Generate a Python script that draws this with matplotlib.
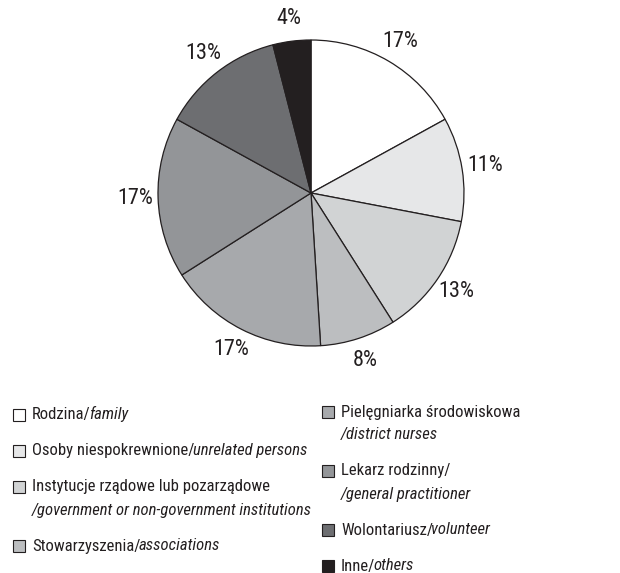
import matplotlib
matplotlib.use("Agg")
import matplotlib.pyplot as plt
from matplotlib.patches import Rectangle

plt.rcParams["font.family"] = ["Roboto Condensed", "Liberation Sans", "DejaVu Sans"]

# shares of each source of help (%)
shares = [17, 11, 13, 8, 17, 17, 13, 4]
colors = ["#ffffff", "#e6e7e8", "#d1d3d4", "#bcbec0",
          "#a7a9ac", "#939598", "#6d6e71", "#231f20"]
names_pl = ["Rodzina/", "Osoby niespokrewnione/", "Instytucje rządowe lub pozarządowe\n",
            "Stowarzyszenia/", "Pielęgniarka środowiskowa\n", "Lekarz rodzinny/\n",
            "Wolontariusz/", "Inne/"]
names_en = ["family", "unrelated persons", "/government or non-government institutions",
            "associations", "/district nurses", "/general practitioner",
            "volunteer", "others"]

W, H = 620, 573
fig = plt.figure(figsize=(W / 100, H / 100), dpi=100)

# pie, centre and radius in pixels
cx, cy, r = 311, 193, 153
lim = 1.3
side = 2 * lim * r
ax = fig.add_axes([(cx - side / 2) / W, (H - cy - side / 2) / H, side / W, side / H])
wedges, texts, autotexts = ax.pie(
    shares, colors=colors, startangle=90, counterclock=False,
    autopct=lambda p: f"{p:.0f}%", pctdistance=1.15,
    wedgeprops=dict(edgecolor="#231f20", linewidth=0.9),
    textprops=dict(fontsize=16, color="#231f20"),
)
ax.set_xlim(-lim, lim)
ax.set_ylim(-lim, lim)
ax.set_aspect("equal")

# legend drawn in pixel coordinates
lg = fig.add_axes([0, 0, 1, 1])
lg.set_xlim(0, W)
lg.set_ylim(H, 0)
lg.axis("off")

fs = 12
line_h, gap = 23, 13
columns = [(range(0, 4), 13, 415), (range(4, 8), 322, 412)]
for idx, x0, y0 in columns:
    y = y0
    for i in idx:
        lg.add_patch(Rectangle((x0, y - 6), 12, 12, facecolor=colors[i],
                               edgecolor="#231f20", linewidth=0.8))
        head = names_pl[i]
        if head.endswith("\n"):
            lg.text(x0 + 19, y, head.strip(), fontsize=fs, va="center",
                    color="#231f20")
            lg.text(x0 + 19, y + line_h, names_en[i], fontsize=fs, va="center",
                    style="italic", color="#231f20")
            y += line_h
        else:
            t = lg.text(x0 + 19, y, head, fontsize=fs, va="center",
                        color="#231f20")
            lg.annotate(names_en[i], xy=(1, 0), xycoords=t, ha="left", va="bottom",
                        xytext=(-1.2, 0), textcoords="offset points",
                        fontsize=fs, style="italic", color="#231f20")
        y += line_h + gap

fig.savefig("out.png", dpi=100, facecolor="white")
